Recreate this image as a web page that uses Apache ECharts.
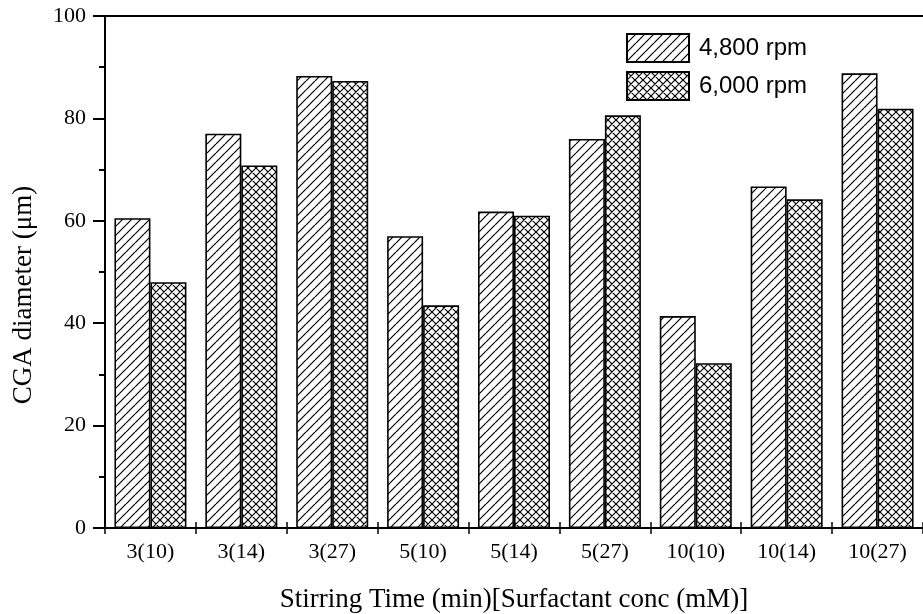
<!DOCTYPE html>
<html>
<head>
<meta charset="utf-8">
<script src="https://cdn.jsdelivr.net/npm/echarts@6/dist/echarts.min.js"></script>
<style>
  html, body { margin: 0; padding: 0; background: #fff; }
  #chart { width: 923px; height: 614px; }
</style>
</head>
<body>
<div id="chart"></div>
<script>
var categories = ['3(10)', '3(14)', '3(27)', '5(10)', '5(14)', '5(27)', '10(10)', '10(14)', '10(27)']
var rpm4800 = [60.5, 77.0, 88.3, 57.0, 61.8, 76.0, 41.4, 66.7, 88.8]
var rpm6000 = [48.0, 70.8, 87.3, 43.5, 61.0, 80.6, 32.2, 64.2, 81.9]
var seriesNames = ['4,800 rpm', '6,000 rpm']

// hatch fills drawn on small canvases
function makePattern(size, cross) {
  var c = document.createElement('canvas')
  c.width = size
  c.height = size
  var ctx = c.getContext('2d')
  ctx.fillStyle = '#fff'
  ctx.fillRect(0, 0, size, size)
  ctx.strokeStyle = '#000'
  ctx.lineWidth = 1.2
  ctx.beginPath()
  for (var k = -1; k <= 1; k++) {
    ctx.moveTo(k * size, size)
    ctx.lineTo(k * size + size, 0)
    if (cross) {
      ctx.moveTo(k * size, 0)
      ctx.lineTo(k * size + size, size)
    }
  }
  ctx.stroke()
  return { image: c, repeat: 'repeat' }
}

var chart = echarts.init(document.getElementById('chart'))
var serif = '"Liberation Serif", "Times New Roman", serif'
var sans = '"Liberation Sans", Arial, sans-serif'

chart.setOption({
  animation: false,
  grid: { left: 105, top: 16, right: 0, bottom: 86, containLabel: false, outerBoundsMode: 'none' },
  legend: {
    left: 621,
    top: 28,
    orient: 'vertical',
    itemWidth: 62,
    itemHeight: 28,
    itemGap: 8,
    icon: 'rect',
    data: seriesNames,
    textStyle: { fontFamily: sans, fontSize: 24, color: '#000', padding: [0, 0, 0, 5] }
  },
  // y-axis title placed by hand, it sits a bit below the plot middle
  graphic: [{
    type: 'text',
    x: 24,
    y: 295,
    rotation: Math.PI / 2,
    style: {
      text: 'CGA diameter (\u03bcm)',
      font: '27px ' + serif,
      fill: '#000',
      align: 'center',
      verticalAlign: 'middle'
    }
  }],
  xAxis: [
    {
      type: 'category',
      data: categories,
      position: 'bottom',
      name: 'Stirring Time (min)[Surfactant conc (mM)]',
      nameLocation: 'middle',
      nameGap: 58,
      nameTextStyle: { fontFamily: serif, fontSize: 27, color: '#000' },
      axisLine: { lineStyle: { color: '#000', width: 2 } },
      axisTick: { show: true, length: 6, lineStyle: { color: '#000', width: 1.5 } },
      axisLabel: { fontFamily: serif, fontSize: 22, color: '#000', margin: 13 }
    },
    {
      type: 'category',
      data: categories,
      position: 'bottom',
      axisLine: { show: false },
      axisTick: { show: true, inside: true, length: 6, lineStyle: { color: '#000', width: 1.5 } },
      axisLabel: { show: false }
    },
    {
      type: 'category',
      data: categories,
      position: 'top',
      axisLine: { lineStyle: { color: '#000', width: 2 } },
      axisTick: { show: false },
      axisLabel: { show: false }
    }
  ],
  yAxis: {
    type: 'value',
    min: 0,
    max: 100,
    interval: 20,
    axisLine: { show: true, lineStyle: { color: '#000', width: 2 } },
    axisTick: { show: true, length: 12, lineStyle: { color: '#000', width: 2 } },
    minorTick: { show: true, splitNumber: 2, length: 6, lineStyle: { color: '#000', width: 2 } },
    splitLine: { show: false },
    axisLabel: { fontFamily: serif, fontSize: 22, color: '#000', margin: 19 }
  },
  series: [
    {
      name: seriesNames[0],
      type: 'bar',
      data: rpm4800,
      barWidth: 36,
      barGap: '0%',
      itemStyle: { color: makePattern(9, false), borderColor: '#000', borderWidth: 1.6 }
    },
    {
      name: seriesNames[1],
      type: 'bar',
      data: rpm6000,
      barWidth: 36,
      barGap: '0%',
      itemStyle: { color: makePattern(8, true), borderColor: '#000', borderWidth: 1.6 }
    }
  ]
})
</script>
</body>
</html>
